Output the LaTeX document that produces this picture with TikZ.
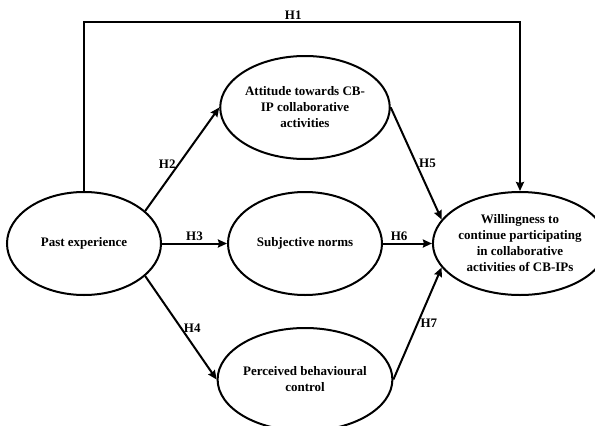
\documentclass[tikz,border=0pt]{standalone}
\usepackage{fontspec}
\setmainfont{Liberation Serif}
\usepackage{tikz}
\usetikzlibrary{shapes.geometric, arrows, arrows.meta}
\tikzstyle{construct} = [ellipse, minimum width=154pt, minimum height=103pt, inner sep=0pt, text centered, align=center, draw=black, line width=2pt, font=\fontsize{13}{16}\selectfont\bfseries]
\tikzstyle{arrow} = [line width=2pt,->,>={Stealth[length=9pt, width=8pt, inset=1pt]}]
\tikzstyle{hyp} = [font=\fontsize{13}{16}\selectfont\bfseries, inner sep=2pt]

\begin{document}
\begin{tikzpicture}[node distance=221pt]
            \useasboundingbox (0,0) rectangle (595pt,-426pt);
            \node (past) [construct] at (84pt,-243.5pt) {Past experience};
            \node (norms) [construct, right of=past] {Subjective norms};
            \node (attitude) [construct, above of=norms, node distance=136pt] {Attitude towards CB-\\IP collaborative\\activities};
            \node (control) [construct, below of=norms, node distance=136pt, minimum width=156pt] {Perceived behavioural\\control};
            \node (will) [construct, right of=norms, node distance=215pt, minimum width=150pt] {Willingness to\\continue participating\\in collaborative\\activities of CB-IPs};
            
            \draw [arrow] (past.north) -- ++(0,169pt) -| (will.north) node[hyp, pos=0.24, above] {H1};
            \draw [arrow] (past.28) -- (attitude.west) node[hyp, pos=0.45, left] {H2};
            \draw [arrow] (past.east) -- (norms.west) node[hyp, midway, above] {H3};
            \draw [arrow] (past.-28) -- (control.west) node[hyp, midway, right] {H4};
            \draw [arrow] (attitude.east) -- (will.163) node[hyp, midway, right] {H5};
            \draw [arrow] (norms.east) -- (will.west) node[hyp, pos=0.33, above] {H6};
            \draw [arrow] (control.east) -- (will.197) node[hyp, midway, right] {H7};
        \end{tikzpicture}
\end{document}
